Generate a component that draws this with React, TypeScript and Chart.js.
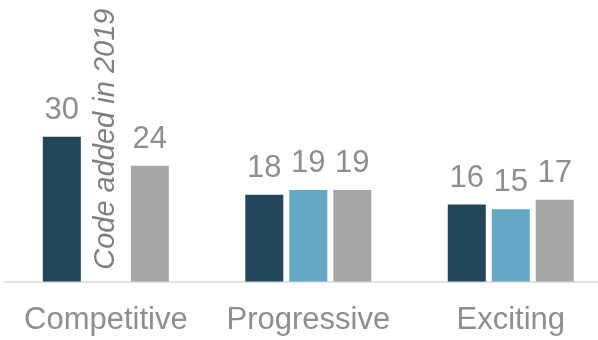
import React, { useEffect, useRef } from "react";
import { Chart, registerables } from "chart.js";

Chart.register(...registerables);

const categories = ["Competitive", "Progressive", "Exciting"];
const seriesA = [30, 18, 16];
const seriesB = [null, 19, 15];
const seriesC = [24, 19, 17];
const seriesColors = ["#22475A", "#65A8C6", "#A6A6A6"];
const annotationText = "Code added in 2019";

const FONT = "Arial, 'Liberation Sans', sans-serif";

const valueLabels = {
  id: "valueLabels",
  afterDatasetsDraw(chart: any) {
    const ctx = chart.ctx;
    ctx.save();
    ctx.font = `31px ${FONT}`;
    ctx.fillStyle = "#8e8e8e";
    ctx.textAlign = "center";
    ctx.textBaseline = "alphabetic";
    chart.data.datasets.forEach((ds: any, di: number) => {
      const meta = chart.getDatasetMeta(di);
      meta.data.forEach((el: any, i: number) => {
        const v = ds.data[i];
        if (v === null || v === undefined) return;
        ctx.fillText(String(v), el.x, el.y - 18);
      });
    });
    // rotated annotation in place of the missing bar
    const meta = chart.getDatasetMeta(1);
    const el = meta.data[0];
    if (el) {
      const base = chart.scales.y.getPixelForValue(0);
      ctx.translate(el.x, base - 12);
      ctx.rotate(-Math.PI / 2);
      ctx.font = `italic 29px ${FONT}`;
      ctx.fillStyle = "#808080";
      ctx.textAlign = "left";
      ctx.textBaseline = "middle";
      ctx.fillText(annotationText, 0, 0);
    }
    ctx.restore();
  },
};

export default function App() {
  const ref = useRef<HTMLCanvasElement>(null);
  useEffect(() => {
    if (!ref.current) return;
    const chart = new Chart(ref.current, {
      type: "bar",
      data: {
        labels: categories,
        datasets: [seriesA, seriesB, seriesC].map((d, i) => ({
          data: d,
          backgroundColor: seriesColors[i],
          barPercentage: 0.864,
          categoryPercentage: 0.652,
        })),
      },
      options: {
        animation: false,
        responsive: true,
        maintainAspectRatio: false,
        layout: { padding: { top: 0, bottom: 4, left: 0, right: 0 } },
        plugins: { legend: { display: false }, tooltip: { enabled: false } },
        scales: {
          x: {
            grid: { display: false, drawTicks: false },
            border: { display: true, color: "#e3e3e3", width: 2 },
            ticks: { font: { size: 31, family: FONT }, color: "#8e8e8e", padding: 20 },
          },
          y: { display: false, min: 0, max: 58.33 },
        },
      },
      plugins: [valueLabels],
    });
    return () => chart.destroy();
  }, []);
  return (
    <div style={{ position: "fixed", left: 0, top: 0, width: 598, height: 340, overflow: "hidden", background: "#fff" }}>
      <div style={{ position: "absolute", left: 4, top: 0, width: 608, height: 363 }}>
        <canvas ref={ref} />
      </div>
    </div>
  );
}
